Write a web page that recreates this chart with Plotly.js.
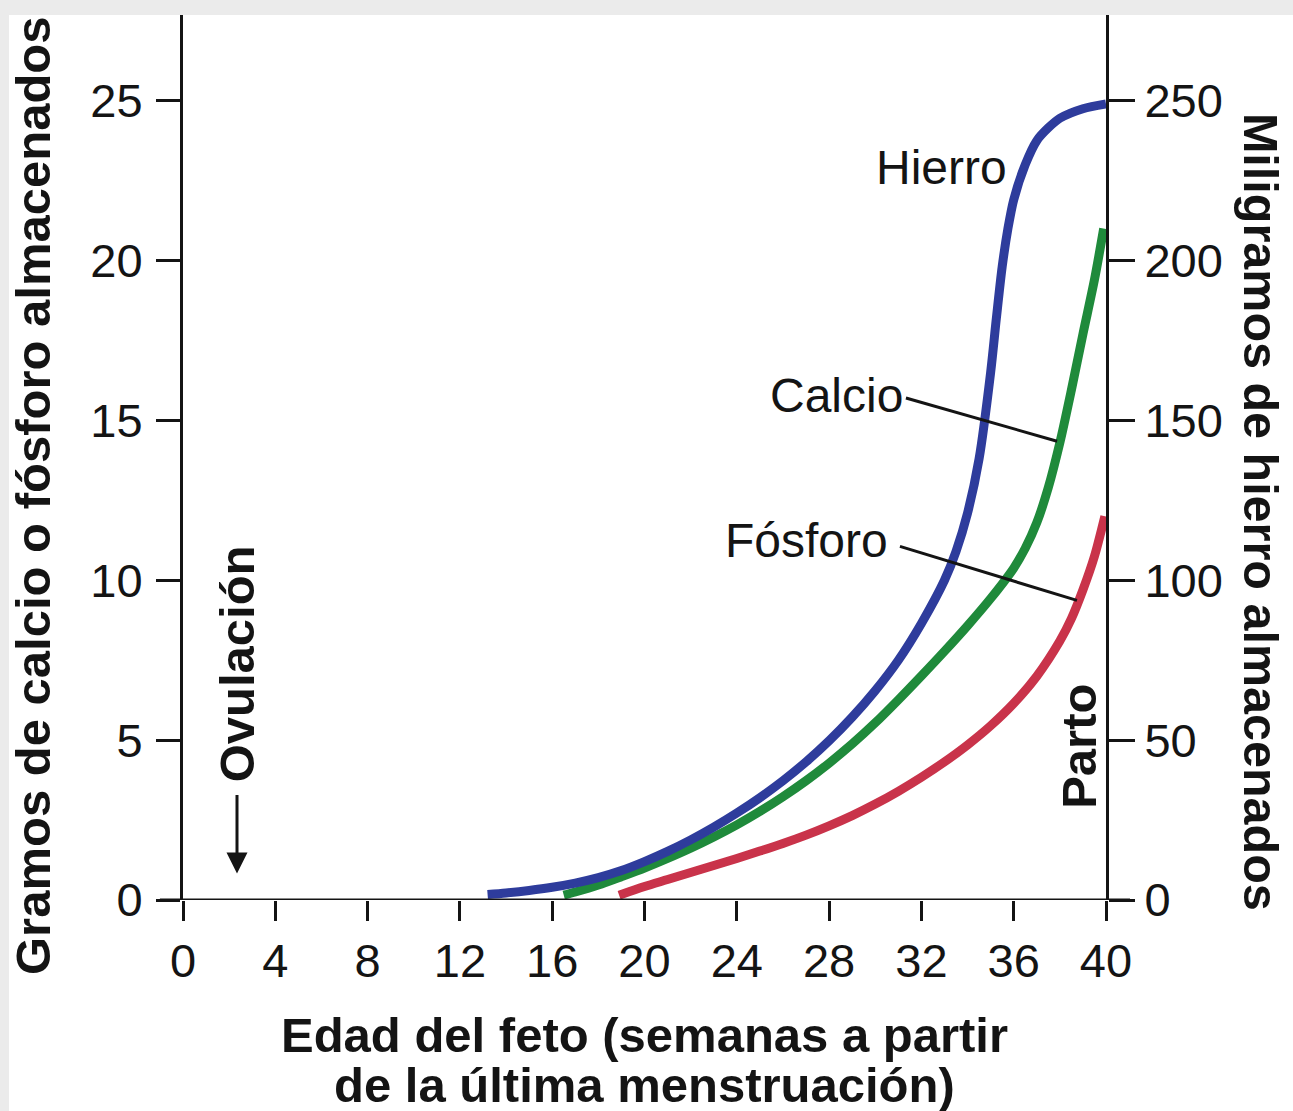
<!DOCTYPE html>
<html>
<head>
<meta charset="utf-8">
<script src="https://cdn.plot.ly/plotly-3.0.1.min.js"></script>
<style>
  html, body { margin: 0; padding: 0; background: #ebebeb; width: 1293px; height: 1111px; overflow: hidden; }
  #chart { position: absolute; left: 0; top: 0; width: 1293px; height: 1111px; }
</style>
</head>
<body>
<div id="chart"></div>
<script>
// Edad del feto (semanas) y valores
const weeksHierro = [13.2, 14, 15, 16, 17, 18, 19, 20, 21, 22, 23, 24, 25, 26, 27, 28, 29, 30, 31, 32, 33, 33.5, 34, 34.5, 35, 35.25, 35.5, 35.75, 36, 36.5, 37, 37.5, 38, 39, 40];
const hierroMg   = [1.7, 2.2, 3.0, 4.0, 5.3, 7.0, 9.2, 12.0, 15.2, 18.8, 22.8, 27.2, 32.0, 37.3, 43.2, 49.8, 57.2, 65.5, 75, 86.5, 100, 109, 121, 138, 165, 182, 198, 210, 219, 230, 237.5, 241.5, 244.5, 247.5, 249];

const weeksCalcio = [16.5, 17, 18, 19, 20, 21, 22, 23, 24, 25, 26, 27, 28, 29, 30, 31, 32, 33, 34, 35, 36, 36.5, 37, 37.5, 38, 38.5, 39, 39.5, 39.9];
const calcioG     = [0.15, 0.25, 0.47, 0.73, 1.0, 1.3, 1.62, 1.97, 2.35, 2.77, 3.23, 3.73, 4.28, 4.88, 5.54, 6.26, 7.01, 7.78, 8.58, 9.43, 10.38, 11.0, 11.8, 12.9, 14.3, 15.95, 17.7, 19.4, 21.0];

const weeksFosforo = [18.9, 20, 21, 22, 23, 24, 25, 26, 27, 28, 29, 30, 31, 32, 33, 34, 35, 36, 37, 38, 38.5, 39, 39.5, 39.95];
const fosforoG     = [0.15, 0.42, 0.64, 0.86, 1.08, 1.3, 1.53, 1.77, 2.03, 2.32, 2.64, 3.0, 3.4, 3.84, 4.32, 4.85, 5.45, 6.15, 7.0, 8.1, 8.8, 9.7, 10.75, 12.0];

const xTicks = [0, 4, 8, 12, 16, 20, 24, 28, 32, 36, 40];
const yLeftTicks = [0, 5, 10, 15, 20, 25];
const yRightTicks = [0, 50, 100, 150, 200, 250];

const FONT = 'Liberation Sans, Arial, Helvetica, sans-serif';
const INK = '#141414';

const traces = [
  { x: weeksHierro, y: hierroMg, yaxis: 'y2', type: 'scatter', mode: 'lines', name: 'Hierro',
    line: { color: '#2e3c9c', width: 9, shape: 'spline', smoothing: 0.8 }, hoverinfo: 'skip' },
  { x: weeksCalcio, y: calcioG, yaxis: 'y', type: 'scatter', mode: 'lines', name: 'Calcio',
    line: { color: '#1f8a3b', width: 9, shape: 'spline', smoothing: 0.8 }, hoverinfo: 'skip' },
  { x: weeksFosforo, y: fosforoG, yaxis: 'y', type: 'scatter', mode: 'lines', name: 'Fósforo',
    line: { color: '#c9334a', width: 9, shape: 'spline', smoothing: 0.8 }, hoverinfo: 'skip' }
];

const tickFont = { family: FONT, size: 47, color: INK };
const boldFont = { family: FONT, size: 49, color: INK, weight: 'bold' };
const regFont = { family: FONT, size: 48, color: INK };

const layout = {
  width: 1293, height: 1111,
  margin: { l: 183, r: 187, t: 15, b: 211, pad: 0 },
  paper_bgcolor: '#ebebeb', plot_bgcolor: '#ffffff',
  showlegend: false,
  xaxis: {
    range: [0, 40], tickvals: xTicks, ticktext: xTicks.map(String),
    ticks: 'outside', ticklen: 20, tickwidth: 3, tickcolor: INK,
    showline: false, showgrid: false, zeroline: false,
    tickfont: tickFont, fixedrange: true, automargin: false
  },
  yaxis: {
    range: [0, 27.68], tickvals: yLeftTicks, ticktext: yLeftTicks.map(String),
    ticks: 'outside', ticklen: 24, tickwidth: 3, tickcolor: INK,
    showline: true, linewidth: 3, linecolor: INK,
    showgrid: false, zeroline: false, tickfont: tickFont, fixedrange: true, automargin: false,
    ticklabelstandoff: 4
  },
  yaxis2: {
    range: [0, 276.8], overlaying: 'y', side: 'right', tickvals: yRightTicks, ticktext: yRightTicks.map(String),
    ticks: 'outside', ticklen: 26, tickwidth: 3, tickcolor: INK,
    showline: true, linewidth: 3, linecolor: INK,
    showgrid: false, zeroline: false, tickfont: tickFont, fixedrange: true, automargin: false,
    ticklabelstandoff: 0
  },
  shapes: [
    // fondo blanco de la figura
    { type: 'rect', xref: 'paper', yref: 'paper', x0: -0.1885, x1: 1.21, y0: -0.25, y1: 1.0,
      fillcolor: '#ffffff', line: { width: 0 }, layer: 'below' },
    // eje x prolongado
    { type: 'line', xref: 'paper', yref: 'y', x0: -0.025, x1: 1.026, y0: 0, y1: 0,
      line: { color: INK, width: 3 }, layer: 'above' },
    // líneas guía de las etiquetas
    { type: 'line', xref: 'x', yref: 'y', x0: 31.33, y0: 15.70, x1: 37.88, y1: 14.35,
      line: { color: INK, width: 3 }, layer: 'above' },
    { type: 'line', xref: 'x', yref: 'y', x0: 31.07, y0: 11.06, x1: 38.74, y1: 9.37,
      line: { color: INK, width: 3 }, layer: 'above' }
  ],
  annotations: [
    { text: 'Hierro', x: 32.89, y: 22.9, xref: 'x', yref: 'y', showarrow: false, font: regFont, xanchor: 'center', yanchor: 'middle' },
    { text: 'Calcio', x: 28.34, y: 15.79, xref: 'x', yref: 'y', showarrow: false, font: regFont, xanchor: 'center', yanchor: 'middle' },
    { text: 'Fósforo', x: 27.0, y: 11.25, xref: 'x', yref: 'y', showarrow: false, font: regFont, xanchor: 'center', yanchor: 'middle' },
    { text: 'Parto', x: 38.8, y: 4.8, xref: 'x', yref: 'y', showarrow: false, font: boldFont, textangle: -90, xanchor: 'center', yanchor: 'middle' },
    { text: 'Ovulación', x: 2.34, y: 7.37, xref: 'x', yref: 'y', showarrow: false, font: boldFont, textangle: -90, xanchor: 'center', yanchor: 'middle' },
    { text: '', x: 2.34, y: 0.83, xref: 'x', yref: 'y', showarrow: true, ax: 0, ay: -80,
      arrowhead: 2, arrowsize: 1.4, arrowwidth: 3, arrowcolor: INK },
    // títulos de ejes
    { text: 'Gramos de calcio o fósforo almacenados', xref: 'paper', yref: 'paper', x: -0.1625, y: 0.4565,
      textangle: -90, showarrow: false, font: boldFont, xanchor: 'center', yanchor: 'middle' },
    { text: 'Miligramos de hierro almacenados', xref: 'paper', yref: 'paper', x: 1.168, y: 0.4384,
      textangle: 90, showarrow: false, font: { family: FONT, size: 48.5, color: INK, weight: 'bold' }, xanchor: 'center', yanchor: 'middle' },
    { text: 'Edad del feto (semanas a partir', xref: 'paper', yref: 'paper', x: 0.5005, y: -0.1525,
      showarrow: false, font: boldFont, xanchor: 'center', yanchor: 'middle' },
    { text: 'de la última menstruación)', xref: 'paper', yref: 'paper', x: 0.5005, y: -0.209,
      showarrow: false, font: boldFont, xanchor: 'center', yanchor: 'middle' }
  ]
};

Plotly.newPlot('chart', traces, layout, { displayModeBar: false, staticPlot: true });
</script>
</body>
</html>
